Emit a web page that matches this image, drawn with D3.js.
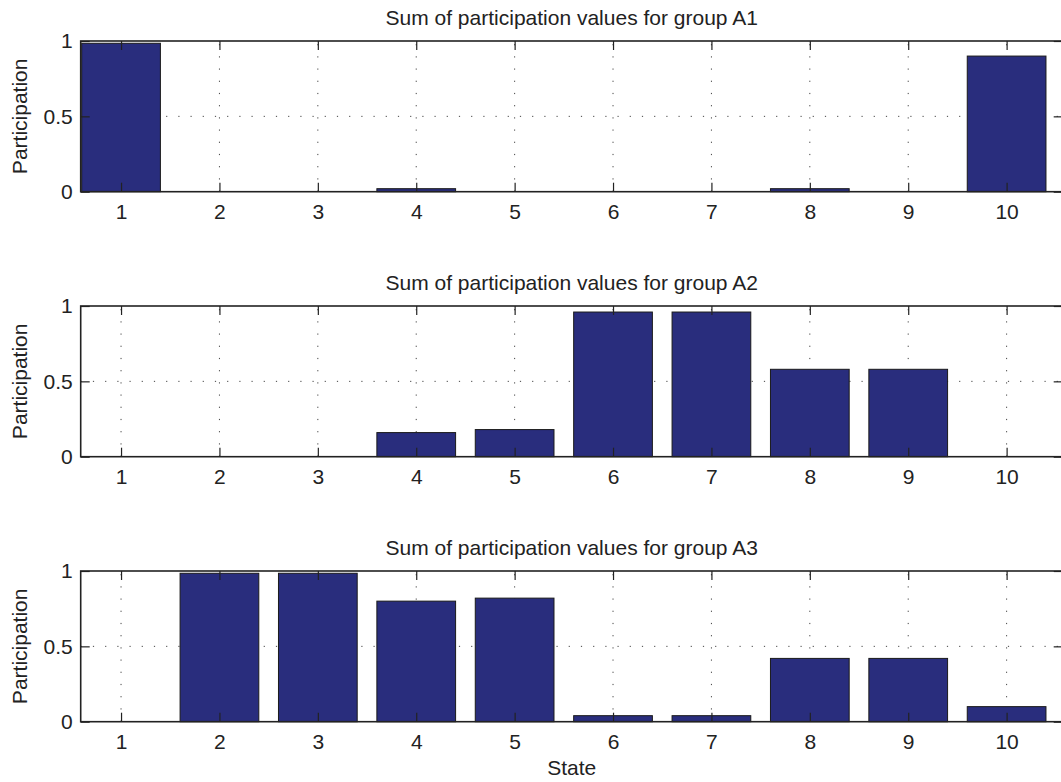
<!DOCTYPE html>
<html>
<head>
<meta charset="utf-8">
<script src="https://cdn.jsdelivr.net/npm/d3@7"></script>
<style>
  html, body { margin: 0; padding: 0; background: #fff; }
  svg { display: block; }
  text { font-family: "Liberation Sans", Arial, sans-serif; fill: #222; }
</style>
</head>
<body>
<svg id="chart" width="1061" height="782"></svg>
<script>
// ---- data ----
const states = [1, 2, 3, 4, 5, 6, 7, 8, 9, 10];
const groupNames = ["A1", "A2", "A3"];
const valuesA1 = [0.985, 0, 0, 0.02, 0, 0, 0, 0.02, 0, 0.90];
const valuesA2 = [0, 0, 0, 0.16, 0.18, 0.96, 0.96, 0.58, 0.58, 0];
const valuesA3 = [0, 0.985, 0.985, 0.80, 0.82, 0.04, 0.04, 0.42, 0.42, 0.10];
const yTickValues = [0, 0.5, 1];
const yTickLabels = ["0", "0.5", "1"];
const xLabel = "State";
const yLabel = "Participation";
const titlePrefix = "Sum of participation values for group ";

const series = [valuesA1, valuesA2, valuesA3];

// ---- layout ----
const svg = d3.select("#chart");
const left = 80.7, right = 1062.7;
const panelTops = [41, 306, 571];
const panelH = 150.7;
const barColor = "#292d7d";
const fontSize = 21;

const x = d3.scaleLinear().domain([0.59, 10.57]).range([left, right]);
const barW = x(0.8) - x(0);

series.forEach((vals, i) => {
  const top = panelTops[i], bottom = top + panelH;
  const y = d3.scaleLinear().domain([0, 1]).range([bottom, top]);
  const g = svg.append("g");

  // grid (dotted, under bars)
  const grid = g.append("g").attr("stroke", "#444").attr("stroke-width", 1)
    .attr("stroke-dasharray", "1.2,11");
  grid.selectAll("line.v").data(states).join("line")
    .attr("x1", d => x(d)).attr("x2", d => x(d))
    .attr("y1", bottom).attr("y2", top);
  grid.selectAll("line.h").data([0.5]).join("line")
    .attr("x1", left).attr("x2", right)
    .attr("y1", d => y(d)).attr("y2", d => y(d));

  // bars
  g.append("g").selectAll("rect").data(vals).join("rect")
    .attr("x", (d, k) => x(states[k]) - barW / 2)
    .attr("width", barW)
    .attr("y", d => y(d))
    .attr("height", d => y(0) - y(d))
    .attr("fill", barColor)
    .attr("stroke", "#1a1a1a")
    .attr("stroke-width", 1);

  // axes with inward ticks
  const axB = d3.axisBottom(x).tickValues(states).tickFormat(d3.format("d"))
    .tickSize(-9).tickPadding(12.6);
  const axT = d3.axisTop(x).tickValues(states).tickFormat("").tickSize(-9);
  const axL = d3.axisLeft(y).tickValues(yTickValues)
    .tickFormat((d, k) => yTickLabels[k]).tickSize(-9).tickPadding(8);
  const axR = d3.axisRight(y).tickValues(yTickValues).tickFormat("").tickSize(-9);

  const styleAxis = sel => {
    sel.select(".domain").remove();
    sel.selectAll(".tick line").attr("stroke", "#222").attr("stroke-width", 1.2);
    sel.selectAll(".tick text").attr("font-size", fontSize)
      .attr("font-family", "Liberation Sans, Arial, sans-serif").attr("fill", "#222");
  };
  g.append("g").attr("transform", `translate(0,${bottom})`).call(axB).call(styleAxis);
  g.append("g").attr("transform", `translate(0,${top})`).call(axT).call(styleAxis);
  g.append("g").attr("transform", `translate(${left},0)`).call(axL).call(styleAxis);
  g.append("g").attr("transform", `translate(${right},0)`).call(axR).call(styleAxis);

  // box
  g.append("rect").attr("x", left).attr("y", top)
    .attr("width", right - left).attr("height", panelH)
    .attr("fill", "none").attr("stroke", "#222").attr("stroke-width", 1.6);

  // title
  g.append("text").attr("x", (left + right) / 2).attr("y", top - 16)
    .attr("text-anchor", "middle").attr("font-size", fontSize)
    .text(titlePrefix + groupNames[i]);

  // y label
  g.append("text")
    .attr("transform", `translate(27,${(top + bottom) / 2}) rotate(-90)`)
    .attr("text-anchor", "middle").attr("font-size", fontSize)
    .text(yLabel);

  if (i === series.length - 1) {
    g.append("text").attr("x", (left + right) / 2).attr("y", bottom + 53)
      .attr("text-anchor", "middle").attr("font-size", fontSize)
      .text(xLabel);
  }
});
</script>
</body>
</html>
